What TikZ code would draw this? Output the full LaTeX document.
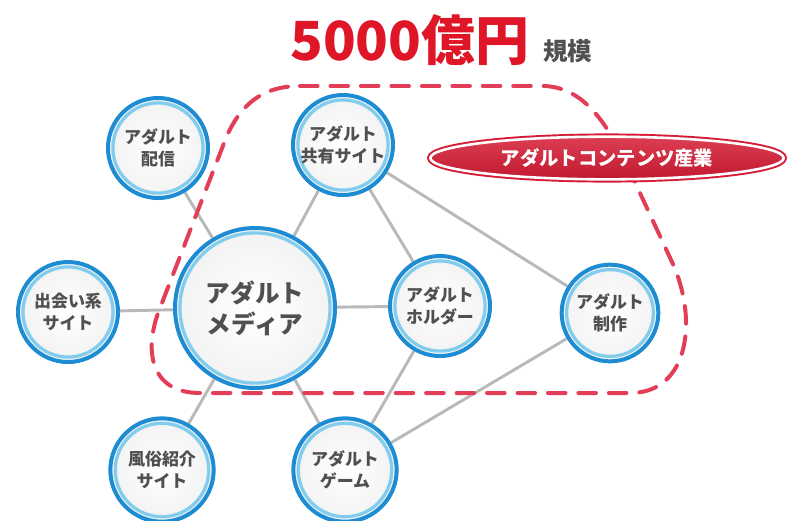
\documentclass[tikz,border=0pt]{standalone}
\usepackage{fontspec}
\setmainfont{Noto Sans CJK JP}
\usetikzlibrary{shapes.geometric, backgrounds}
\definecolor{ringdark}{RGB}{30, 140, 210}
\definecolor{ringlight}{RGB}{130, 205, 238}
\definecolor{linkgray}{RGB}{185, 185, 185}
\definecolor{zonered}{RGB}{226, 62, 88}
\definecolor{titlered}{RGB}{222, 22, 40}
\definecolor{labelred}{RGB}{214, 28, 52}
\definecolor{textgray}{RGB}{80, 80, 80}

\begin{document}
\begin{tikzpicture}[x=0.03cm, y=-0.03cm,
  bub/.style={circle, draw=ringdark, line width=3.4pt, inner color=white, outer color=black!5, minimum size=#1, inner sep=0pt, align=center, text=textgray, font=\fontsize{14.5}{19}\selectfont\bfseries,
    path picture={\draw[ringlight, line width=2.8pt] (path picture bounding box.center) circle[radius=#1/2-4.2pt];}},
  link/.style={draw=linkgray, line width=2.5pt},
  zone/.style={draw=zonered, line width=3.4pt, line cap=round, dash pattern=on 15pt off 11pt},
]
  \useasboundingbox (0,0) rectangle (791,520);

  % Title
  \node[anchor=base west, inner sep=0pt, text=titlered, font=\fontsize{46}{46}\selectfont\bfseries] (title) at (290,60) {5000億円};
  \node[anchor=base west, inner sep=0pt, text=textgray, font=\fontsize{21}{21}\selectfont\bfseries] (size) at (543,60) {規模};

  % Members
  \node[bub=3cm] (haishin) at (158,148) {アダルト\\配信};
  \node[bub=3cm] (kyoyu) at (343,145) {アダルト\\共有サイト};
  \node[bub=3cm] (deai) at (68,312) {出会い系\\サイト};
  \node[bub=4.8cm, font=\fontsize{21}{26.5}\selectfont\bfseries] (media) at (255,308) {アダルト\\メディア};
  \node[bub=3cm] (holder) at (440,306) {アダルト\\ホルダー};
  \node[bub=2.9cm] (seisaku) at (610,313) {アダルト\\制作};
  \node[bub=3.1cm] (fuzoku) at (162,470) {風俗紹介\\サイト};
  \node[bub=3.1cm] (game) at (345,470) {アダルト\\ゲーム};

  % Links and the industry zone
  \begin{scope}[on background layer]
    \draw[link] (haishin) -- (media);
    \draw[link] (kyoyu) -- (media);
    \draw[link] (kyoyu) -- (holder);
    \draw[link] (kyoyu) -- (seisaku);
    \draw[link] (deai) -- (media);
    \draw[link] (media) -- (holder);
    \draw[link] (media) -- (fuzoku);
    \draw[link] (media) -- (game);
    \draw[link] (holder) -- (game);
    \draw[link] (seisaku) -- (game);
    \draw[zone] (300,86) -- (545,86) .. controls (580,88) and (600,115) .. (620,150)
      -- (672,262) .. controls (698,318) and (690,393) .. (630,393)
      -- (200,393) .. controls (150,393) and (143,350) .. (160,308)
      -- (226,138) .. controls (240,105) and (262,86) .. (300,86);
  \end{scope}

  % Zone label
  \node[ellipse, draw=white, line width=2.2pt, top color=labelred!85, bottom color=labelred!90!black, preaction={draw=labelred, line width=5.5pt}, minimum width=10.6cm, minimum height=1.28cm, text=white, font=\fontsize{16.5}{16.5}\selectfont\bfseries] (sangyo) at (607,158) {アダルトコンテンツ産業};
\end{tikzpicture}
\end{document}
